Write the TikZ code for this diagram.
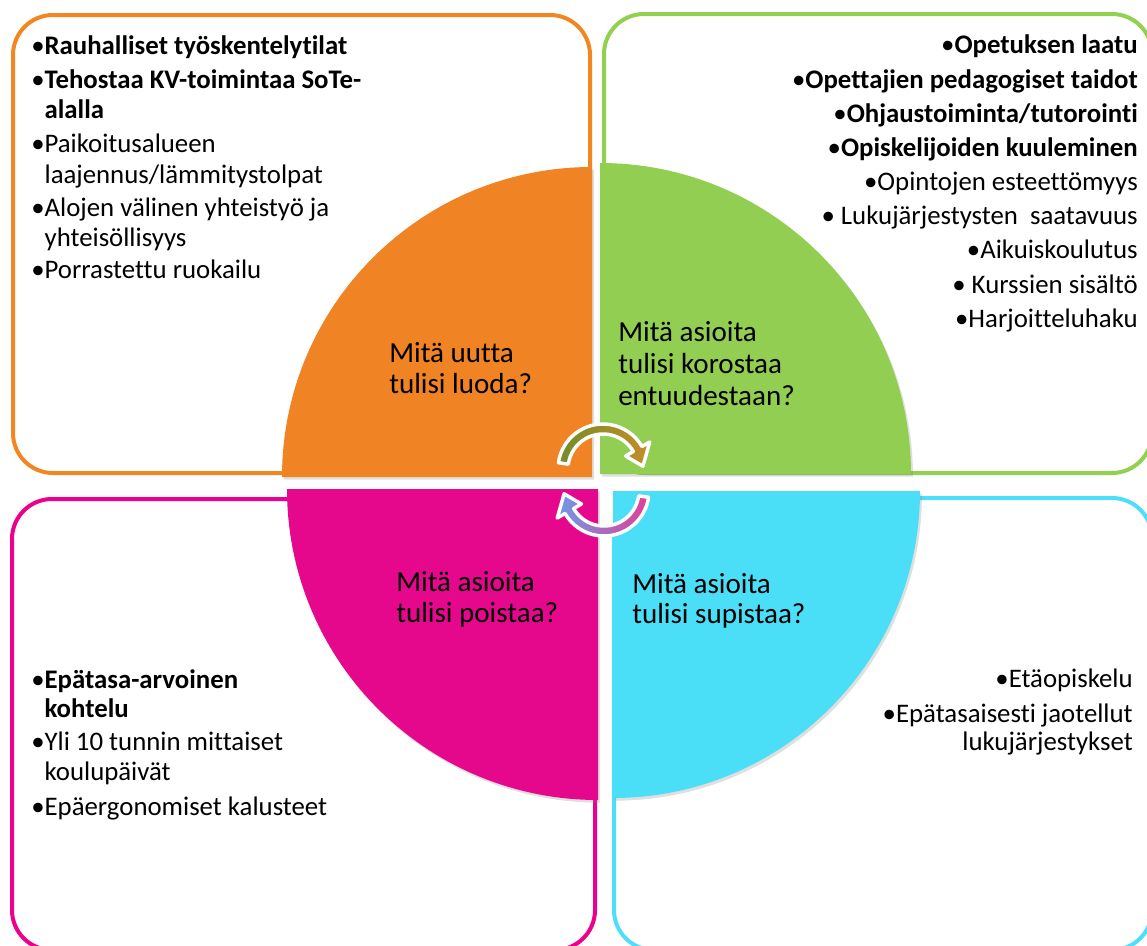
\documentclass[tikz,border=0pt]{standalone}
\usepackage{fontspec}
\setmainfont{Carlito}[Ligatures=NoCommon]
\usetikzlibrary{calc,shadows}
\definecolor{bOr}{RGB}{242,135,34}
\definecolor{bGr}{RGB}{146,208,80}
\definecolor{bPk}{RGB}{236,0,140}
\definecolor{bCy}{RGB}{77,222,250}
\definecolor{qOr}{RGB}{240,131,36}
\definecolor{qGr}{RGB}{146,206,82}
\definecolor{qPk}{RGB}{230,8,140}
\definecolor{qCy}{RGB}{75,222,247}
\definecolor{aOl}{RGB}{112,142,40}
\definecolor{aGo}{RGB}{200,140,38}
\definecolor{aBl}{RGB}{110,155,230}
\definecolor{aPk}{RGB}{226,62,150}
\begin{document}
\begin{tikzpicture}[x=0.75pt,y=0.75pt,
  box/.style={line width=3pt, rounded corners=30pt},
  quad/.style={drop shadow={opacity=0.25, shadow xshift=1.5pt, shadow yshift=-2pt}},
  txt/.style={inner sep=0pt, font=\fontsize{20.1}{23.6}\selectfont},
  ltxt/.style={txt, anchor=base west},
  rtxt/.style={txt, anchor=base east},
  qtxt/.style={inner sep=0pt, anchor=base west, font=\fontsize{21.8}{25}\selectfont},
  cyc/.style={draw=white, line width=2.6pt, line join=round}]
\useasboundingbox (0,0) rectangle (1147,-946);
% outer boxes
\draw[box, bOr] (13,-15) rectangle (590,-473);
\draw[box, bGr] (604,-14) rectangle (1152,-473);
\draw[box, bPk] (12,-499) rectangle (595,-950);
\draw[box, bCy] (614,-498) rectangle (1152,-950);
% quadrant corners
\coordinate (O1) at (592,-477);
\coordinate (O2) at (600,-474);
\coordinate (O3) at (598,-489);
\coordinate (O4) at (613,-491);
% quadrants
\fill[qOr, quad] (O1) -- ($(O1)+(180:310)$) arc[start angle=180,end angle=90,radius=310] -- cycle;
\fill[qGr, quad] (O2) -- ($(O2)+(0:311)$) arc[start angle=0,end angle=90,radius=311] -- cycle;
\fill[qPk, quad] (O3) -- ($(O3)+(180:311)$) arc[start angle=180,end angle=270,radius=311] -- cycle;
\fill[qCy, quad] (O4) -- ($(O4)+(0:307)$) arc[start angle=0,end angle=-90,radius=307] -- cycle;
% top-left texts
\node[ltxt] (tl1) at (31,-54) {•\textbf{Rauhalliset työskentelytilat}};
\node[ltxt] (tl2) at (31,-88) {•\textbf{Tehostaa KV-toimintaa SoTe-}};
\node[ltxt] (tl2b) at (31,-118) {\phantom{•}\textbf{alalla}};
\node[ltxt] (tl3) at (31,-152) {•Paikoitusalueen};
\node[ltxt] (tl3b) at (31,-183) {\phantom{•}laajennus/lämmitystolpat};
\node[ltxt] (tl4) at (31,-216) {•Alojen välinen yhteistyö ja};
\node[ltxt] (tl4b) at (31,-246) {\phantom{•}yhteisöllisyys};
\node[ltxt] (tl5) at (31,-278) {•Porrastettu ruokailu};
% top-right texts
\node[rtxt] (tr1) at (1138,-53) {•\textbf{Opetuksen laatu}};
\node[rtxt] (tr2) at (1138,-88) {•\textbf{Opettajien pedagogiset taidot}};
\node[rtxt] (tr3) at (1138,-122) {•\textbf{Ohjaustoiminta/tutorointi}};
\node[rtxt] (tr4) at (1138,-156) {•\textbf{Opiskelijoiden kuuleminen}};
\node[rtxt] (tr5) at (1138,-190) {•Opintojen esteettömyys};
\node[rtxt] (tr6) at (1138,-224) {• Lukujärjestysten\ \ saatavuus};
\node[rtxt] (tr7) at (1138,-258) {•Aikuiskoulutus};
\node[rtxt] (tr8) at (1138,-293) {• Kurssien sisältö};
\node[rtxt] (tr9) at (1138,-327) {•Harjoitteluhaku};
% bottom-left texts
\node[ltxt] (bl1) at (31,-688) {•\textbf{Epätasa-arvoinen}};
\node[ltxt] (bl1b) at (31,-717) {\phantom{•}\textbf{kohtelu}};
\node[ltxt] (bl2) at (31,-750) {•Yli 10 tunnin mittaiset};
\node[ltxt] (bl2b) at (31,-780) {\phantom{•}koulupäivät};
\node[ltxt] (bl3) at (31,-815) {•Epäergonomiset kalusteet};
% bottom-right texts
\node[rtxt] (br1) at (1133,-687) {•Etäopiskelu};
\node[rtxt] (br2) at (1133,-722) {•Epätasaisesti jaotellut};
\node[rtxt] (br2b) at (1133,-750) {lukujärjestykset};
% circle texts
\node[qtxt] (q1a) at (389,-362) {Mitä uutta};
\node[qtxt] (q1b) at (389,-393) {tulisi luoda?};
\node[qtxt] (q2a) at (618,-341) {Mitä asioita};
\node[qtxt] (q2b) at (618,-373) {tulisi korostaa};
\node[qtxt] (q2c) at (618,-405) {entuudestaan?};
\node[qtxt] (q3a) at (396,-591) {Mitä asioita};
\node[qtxt] (q3b) at (396,-622) {tulisi poistaa?};
\node[qtxt] (q4a) at (632,-593) {Mitä asioita};
\node[qtxt] (q4b) at (632,-623) {tulisi supistaa?};
% cycle arrows
\coordinate (C1) at (603,-469);
\coordinate (C2) at (604,-491);
\path[cyc, left color=aOl, right color=aGo]
  ($(C1)+(172:45)$) arc[start angle=172,end angle=30,radius=45]
  -- ($(C1)+(30:54)$) -- ($(C1)+(4:40)$) -- ($(C1)+(30:26)$)
  -- ($(C1)+(30:35)$) arc[start angle=30,end angle=172,radius=35] -- cycle;
\path[cyc, left color=aBl, right color=aPk]
  ($(C2)+(-8:45)$) arc[start angle=-8,end angle=-150,radius=45]
  -- ($(C2)+(210:54)$) -- ($(C2)+(184:40)$) -- ($(C2)+(210:26)$)
  -- ($(C2)+(210:35)$) arc[start angle=-150,end angle=-8,radius=35] -- cycle;
\end{tikzpicture}
\end{document}
